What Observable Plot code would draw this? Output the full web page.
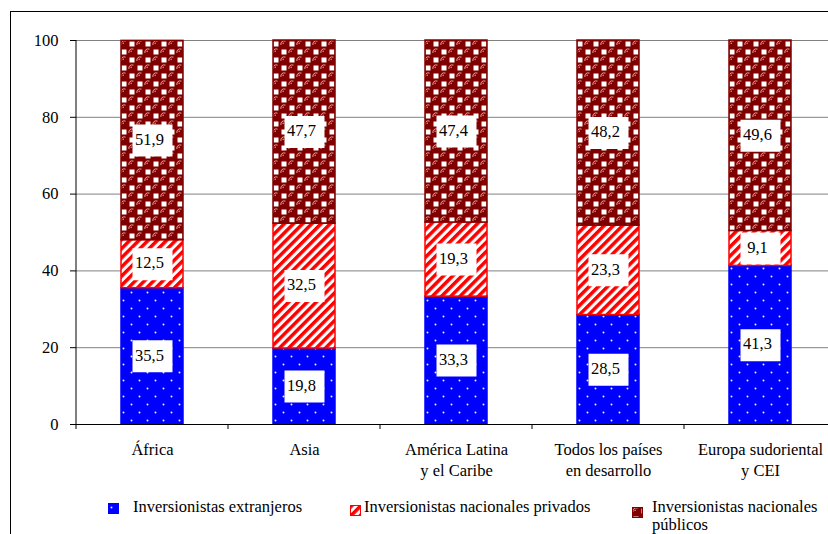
<!DOCTYPE html>
<html><head><meta charset="utf-8">
<script src="https://cdn.jsdelivr.net/npm/d3@7"></script>
<script src="https://cdn.jsdelivr.net/npm/@observablehq/plot@0.6"></script>
<style>
html,body{margin:0;padding:0;background:#fff;}
#wrap{position:relative;width:828px;height:534px;overflow:hidden;font-family:"Liberation Serif","Times New Roman",serif;color:#000;}
#chart{position:absolute;left:0;top:0;width:836px;}
#border{position:absolute;left:10px;top:11px;width:900px;height:700px;border:1px solid #000;box-sizing:border-box;}
#legend{position:absolute;left:0;top:485px;width:828px;height:49px;}
.lt{position:absolute;font-size:16.5px;line-height:18px;white-space:nowrap;}
.sw{position:absolute;display:block;}
</style></head><body>
<div id="wrap">
<svg width="0" height="0" style="position:absolute">
 <defs>
  <pattern id="pDots" width="16" height="16" patternUnits="userSpaceOnUse">
   <rect width="16" height="16" fill="#0000FF"/>
   <circle cx="3.5" cy="4.5" r="1" fill="#e8e8ff"/>
   <circle cx="11.5" cy="12.5" r="1" fill="#e8e8ff"/>
  </pattern>
  <pattern id="pStripes" width="6.5" height="10" patternUnits="userSpaceOnUse" patternTransform="rotate(45)">
   <rect width="6.5" height="10" fill="#fff"/>
   <rect width="3.5" height="10" fill="#FF0000"/>
  </pattern>
  <pattern id="pBalls" width="16" height="16" patternUnits="userSpaceOnUse">
   <rect width="16" height="16" fill="#800000"/>
   <rect x="9.5" y="1.5" width="5" height="5" fill="#fff"/>
   <rect x="1.5" y="9.5" width="5" height="5" fill="#fff"/>
   <path d="M1,5 A3.2,3.2 0 0 1 5.5,1.2" fill="none" stroke="#e6b8b8" stroke-width="0.9"/>
   <path d="M9,13 A3.2,3.2 0 0 1 13.5,9.2" fill="none" stroke="#e6b8b8" stroke-width="0.9"/>
   <circle cx="3.2" cy="3.2" r="0.8" fill="#fff" opacity="0.6"/>
   <circle cx="11.2" cy="11.2" r="0.8" fill="#fff" opacity="0.6"/>
  </pattern>
 </defs>
</svg>
<div id="chart"></div>
<div id="legend"></div>
<div id="border"></div>
</div>
<script>
// ---- data ----
const regions = ["África", "Asia", "América Latina\ny el Caribe", "Todos los países\nen desarrollo", "Europa sudoriental\ny CEI"];
const seriesNames = ["Inversionistas extranjeros", "Inversionistas nacionales privados", "Inversionistas nacionales públicos"];
const extranjeros = [35.5, 19.8, 33.3, 28.5, 41.3];
const privados = [12.5, 32.5, 19.3, 23.3, 9.1];
const publicos = [51.9, 47.7, 47.4, 48.2, 49.6];
const yTicks = [0, 20, 40, 60, 80, 100];
const gridTicks = [20, 40, 60, 80, 100];

// styles per series
const seriesFill = {
  "Inversionistas extranjeros": "url(#pDots)",
  "Inversionistas nacionales privados": "url(#pStripes)",
  "Inversionistas nacionales públicos": "url(#pBalls)"
};
const seriesStroke = {
  "Inversionistas extranjeros": "#0000FF",
  "Inversionistas nacionales privados": "#FF0000",
  "Inversionistas nacionales públicos": "#800000"
};

const data = [];
[extranjeros, privados, publicos].forEach((arr, s) =>
  arr.forEach((v, i) => data.push({region: regions[i], series: seriesNames[s], value: v})));

const fmt = v => v.toFixed(1).replace(".", ",");
const boxSymbol = {draw(ctx) { ctx.rect(-20, -16, 40, 32); }};

function yAxisLine(index, scales, values, dims) {
  const y0 = scales.y(d3.min(yTicks)), y1 = scales.y(d3.max(yTicks));
  return d3.create("svg:line")
    .attr("x1", dims.marginLeft).attr("x2", dims.marginLeft)
    .attr("y1", y0).attr("y2", y1)
    .attr("stroke", "#000").attr("stroke-width", 1).node();
}
function xBoundaryTicks(index, scales, values, dims) {
  const x = scales.x;
  const dom = regions;
  const bw = typeof x.bandwidth === "function" ? x.bandwidth() : ((scales.scales && scales.scales.x && scales.scales.x.bandwidth) || 0);
  const step = x(dom[1]) - x(dom[0]);
  const centers = dom.map(d => x(d) + bw / 2);
  const bounds = centers.map(c => c - step / 2).concat([centers[centers.length - 1] + step / 2]);
  const y0 = scales.y(0);
  const g = d3.create("svg:g").attr("stroke", "#000");
  bounds.forEach(b => g.append("line").attr("x1", b).attr("x2", b).attr("y1", y0).attr("y2", y0 + 5));
  return g.node();
}

const plot = Plot.plot({
  width: 836,
  height: 485,
  marginTop: 40,
  marginRight: 0,
  marginBottom: 61,
  marginLeft: 76,
  style: {fontFamily: "'Liberation Serif','Times New Roman',serif", fontSize: "16.5px", color: "#000", background: "transparent", maxWidth: "none", overflow: "visible"},
  x: {domain: regions, type: "band", paddingInner: 0.59, paddingOuter: 0.295, axis: null},
  y: {domain: [0, 100], axis: null, label: null},
  color: {type: "identity"},
  marks: [
    Plot.ruleY(gridTicks, {stroke: "#808080", strokeWidth: 1}),
    Plot.barY(data, {x: "region", y: "value", fill: d => seriesFill[d.series], stroke: d => seriesStroke[d.series], strokeWidth: 1.5}),
    Plot.ruleY([0], {stroke: "#000", strokeWidth: 1}),
    yAxisLine,
    xBoundaryTicks,
    Plot.axisY(yTicks, {tickSize: 6, tickPadding: 12, fontSize: 16.5, label: null, stroke: "#000"}),
    Plot.dot(data, Plot.stackY({x: "region", y: "value", symbol: boxSymbol, r: 10, fill: "white", stroke: null})),
    Plot.text(data, Plot.stackY({x: "region", y: "value", text: d => fmt(d.value), fontSize: 16.5, dx: -3, dy: -1, fill: "#000"})),
    Plot.text(regions, {x: d => d, frameAnchor: "bottom", lineAnchor: "top", dy: 16, lineHeight: 1.27, fontSize: 16.5, fill: "#000"})
  ]
});
document.getElementById("chart").appendChild(plot);

// ---- legend ----
const legend = document.getElementById("legend");
const legendItems = [
  {name: seriesNames[0], text: "Inversionistas extranjeros", sx: 108, sy: 18, tx: 133},
  {name: seriesNames[1], text: "Inversionistas nacionales privados", sx: 350, sy: 20, tx: 364},
  {name: seriesNames[2], text: "Inversionistas nacionales<br>públicos", sx: 632, sy: 22, tx: 652}
];
legendItems.forEach(it => {
  const sw = document.createElementNS("http://www.w3.org/2000/svg", "svg");
  sw.setAttribute("class", "sw");
  sw.setAttribute("width", 11); sw.setAttribute("height", 11);
  sw.style.left = it.sx + "px"; sw.style.top = it.sy + "px";
  sw.innerHTML = `<rect x="0.5" y="0.5" width="10" height="10" fill="${seriesFill[it.name]}" stroke="${seriesStroke[it.name]}" stroke-width="1"/>`;
  legend.appendChild(sw);
  const t = document.createElement("div");
  t.className = "lt";
  t.style.left = it.tx + "px"; t.style.top = "13px";
  t.innerHTML = it.text;
  legend.appendChild(t);
});
</script>
</body></html>
